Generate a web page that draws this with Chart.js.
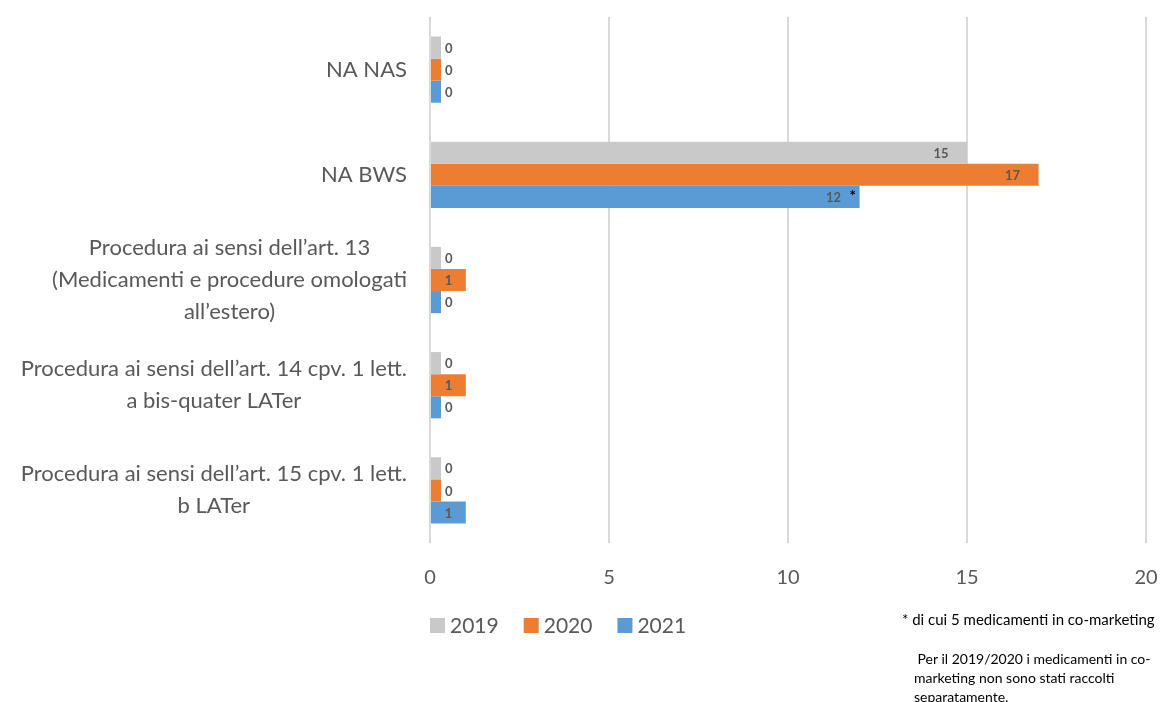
<!DOCTYPE html>
<html>
<head>
<meta charset="utf-8">
<script src="https://cdn.jsdelivr.net/npm/chart.js@4/dist/chart.umd.min.js"></script>
<style>
  html, body { margin: 0; padding: 0; background: #fff; }
  #wrap { position: relative; width: 1160px; height: 702px; overflow: hidden; }
  .note { position: absolute; font-family: Lato, "Liberation Sans", Arial, sans-serif; font-size: 15px; color: #000; line-height: 19px; white-space: nowrap; }
</style>
</head>
<body>
<div id="wrap">
  <canvas id="myChart" width="1160" height="702"></canvas>
  <div class="note" style="left:902px; top:610px;">* di cui 5 medicamenti in co-marketing</div>
  <div class="note" style="left:914px; top:649px; font-size:14px;">&nbsp;Per il 2019/2020 i medicamenti in co-<br>marketing non sono stati raccolti<br>separatamente.</div>
</div>
<script>
// categorie e valori
var categorie = [
    ['NA NAS'],
    ['NA BWS'],
    ['Procedura ai sensi dell’art. 13', '(Medicamenti e procedure omologati', 'all’estero)'],
    ['Procedura ai sensi dell’art. 14 cpv. 1 lett.', 'a bis-quater LATer'],
    ['Procedura ai sensi dell’art. 15 cpv. 1 lett.', 'b LATer']
];
var anni = ['2019', '2020', '2021'];
var valori2019 = [0, 15, 0, 0, 0];
var valori2020 = [0, 17, 1, 1, 0];
var valori2021 = [0, 12, 0, 0, 1];
var note2021 = ['', '*', '', '', ''];
var xTicks = [0, 5, 10, 15, 20];

var colori = ['#c9c9c9', '#ed7d31', '#5b9bd5'];
var grigio = '#595959';
var fontFam = 'Lato, "Liberation Sans", Arial, sans-serif';

var etichettePlugin = {
    id: 'etichette',
    afterDatasetsDraw: function(chart) {
        var ctx = chart.ctx;
        ctx.save();
        ctx.fillStyle = grigio;
        ctx.textBaseline = 'middle';
        chart.data.datasets.forEach(function(ds, di) {
            var meta = chart.getDatasetMeta(di);
            meta.data.forEach(function(el, i) {
                var v = ds.data[i];
                ctx.font = 'bold 13px ' + fontFam;
                if (v === 0) {
                    ctx.textAlign = 'left';
                    ctx.fillText('0', el.x + 4, el.y + 1);
                } else {
                    var cx = Math.max(el.x - 26, (el.base + el.x) / 2);
                    ctx.textAlign = 'center';
                    ctx.fillText(String(v), cx, el.y + 1);
                }
                if (di === 2 && note2021[i]) {
                    ctx.font = 'bold 15px ' + fontFam;
                    ctx.textAlign = 'center';
                    ctx.fillStyle = '#000';
                    ctx.fillText(note2021[i], el.x - 7, el.y - 1);
                    ctx.fillStyle = grigio;
                }
            });
        });
        ctx.restore();
    },
    afterDraw: function(chart) {
        var ctx = chart.ctx;
        var yScale = chart.scales.y;
        var xScale = chart.scales.x;
        var area = chart.chartArea;
        ctx.save();
        ctx.fillStyle = grigio;
        ctx.textBaseline = 'middle';
        // tick asse x
        ctx.font = '20px ' + fontFam;
        ctx.textAlign = 'center';
        xTicks.forEach(function(t) {
            ctx.fillText(String(t), xScale.getPixelForValue(t), area.bottom + 35);
        });
        // etichette categorie
        ctx.font = '22px ' + fontFam;
        var lh = 32;
        categorie.forEach(function(lines, i) {
            var y = yScale.getPixelForValue(i);
            var maxW = 0;
            lines.forEach(function(l) { maxW = Math.max(maxW, ctx.measureText(l).width); });
            var cx = 407 - maxW / 2;
            var y0 = y - (lines.length - 1) * lh / 2;
            lines.forEach(function(l, k) { ctx.fillText(l, cx, y0 + k * lh); });
        });
        // legenda
        ctx.font = '21px ' + fontFam;
        ctx.textAlign = 'left';
        var lx = area.left;
        var ly = 625;
        anni.forEach(function(a, i) {
            ctx.fillStyle = colori[i];
            ctx.fillRect(lx, ly - 7, 15, 15);
            ctx.fillStyle = grigio;
            ctx.fillText(a, lx + 20, ly + 1);
            lx += 20 + ctx.measureText(a).width + 25;
        });
        ctx.restore();
    }
};

var ctx = document.getElementById('myChart');
var myChart = new Chart(ctx, {
    type: 'bar',
    data: {
        labels: categorie.map(function(c) { return c.join(' '); }),
        datasets: [
            { label: anni[0], data: valori2019, backgroundColor: colori[0] },
            { label: anni[1], data: valori2020, backgroundColor: colori[1] },
            { label: anni[2], data: valori2021, backgroundColor: colori[2] }
        ]
    },
    options: {
        indexAxis: 'y',
        responsive: false,
        animation: false,
        devicePixelRatio: 1,
        datasets: {
            bar: { barPercentage: 1, categoryPercentage: 0.63, minBarLength: 11 }
        },
        layout: { padding: { left: 430, right: 14, top: 17, bottom: 159 } },
        plugins: { legend: { display: false }, tooltip: { enabled: false } },
        scales: {
            y: { display: false },
            x: {
                min: 0,
                max: 20,
                afterBuildTicks: function(axis) {
                    axis.ticks = xTicks.map(function(v) { return { value: v }; });
                },
                grid: { color: '#d9d9d9', lineWidth: 2, drawTicks: false },
                border: { display: false },
                ticks: { display: false }
            }
        }
    },
    plugins: [etichettePlugin]
});
</script>
</body>
</html>
